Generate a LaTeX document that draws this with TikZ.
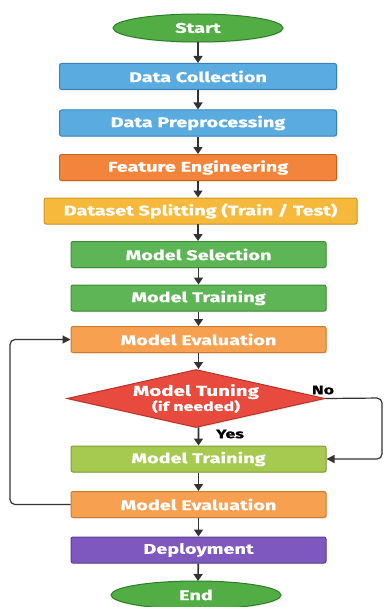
\documentclass[tikz,border=0pt]{standalone}
\usepackage{fontspec}
\setmainfont{Fira Sans}[FakeStretch=1.42, BoldFeatures={FakeBold=0.5}]
\usetikzlibrary{shapes.geometric,arrows.meta,shadows}
\definecolor{gfill}{HTML}{52AE44}\definecolor{gdraw}{HTML}{2F7D2A}
\definecolor{bfill}{HTML}{5AACE0}\definecolor{bdraw}{HTML}{3A82BC}
\definecolor{ofill}{HTML}{F2853B}\definecolor{odraw}{HTML}{C9641F}
\definecolor{yfill}{HTML}{F6B93C}\definecolor{ydraw}{HTML}{CF9722}
\definecolor{mfill}{HTML}{5DB556}\definecolor{mdraw}{HTML}{3D8C38}
\definecolor{lofill}{HTML}{F7A050}\definecolor{lodraw}{HTML}{CF7A2C}
\definecolor{rfill}{HTML}{E84A3E}\definecolor{rdraw}{HTML}{B8342A}
\definecolor{lgfill}{HTML}{A6CA50}\definecolor{lgdraw}{HTML}{7E9F33}
\definecolor{pfill}{HTML}{7E58BE}\definecolor{pdraw}{HTML}{5B3E95}
\definecolor{arr}{HTML}{333333}
\tikzset{
  x=1pt, y=-1pt,
  base/.style={font=\bfseries\fontsize{14}{15}\selectfont, text=white, line width=1pt, drop shadow={opacity=0.18, shadow xshift=1pt, shadow yshift=-1.2pt}},
  boxw/.style={base, rectangle, rounded corners=2pt, minimum height=26pt, minimum width=#1pt, inner sep=0pt},
  term/.style={base, ellipse, minimum width=170pt, minimum height=28pt, inner sep=0pt, fill=gfill, draw=gdraw},
  dec/.style={base, diamond, minimum width=258pt, minimum height=58pt, inner sep=0pt, aspect=4.4, fill=rfill, draw=rdraw, align=center},
  conn/.style={draw=arr, line width=1.6pt, -{Triangle[width=9pt,length=7pt]}},
  loop/.style={draw=arr, line width=1.2pt, rounded corners=5pt, -{Triangle[width=8pt,length=8pt]}},
  lab/.style={font=\bfseries\fontsize{12.5}{14}\selectfont, text=black}
}
\begin{document}
\begin{tikzpicture}
\useasboundingbox (0,0) rectangle (383,607);
\node[term] (start) at (198,28) {Start};
\node[boxw=277, fill=bfill, draw=bdraw] (collect) at (198,76.5) {Data Collection};
\node[boxw=277, fill=bfill, draw=bdraw] (prep) at (198,123) {Data Preprocessing};
\node[boxw=277, fill=ofill, draw=odraw] (feat) at (198,167.5) {Feature Engineering};
\node[boxw=313, fill=yfill, draw=ydraw] (split) at (200.5,211) {Dataset Splitting (Train / Test)};
\node[boxw=255, fill=mfill, draw=mdraw] (select) at (198.5,254.5) {Model Selection};
\node[boxw=255, fill=mfill, draw=mdraw] (train) at (198.5,298) {Model Training};
\node[boxw=255, fill=lofill, draw=lodraw] (eval) at (198.5,339.5) {Model Evaluation};
\node[dec] (tune) at (196,398.5) {{\fontsize{14.5}{15}\selectfont Model Tuning}\\[0pt]{\fontsize{12.5}{13}\selectfont (if needed)}};
\node[boxw=255, fill=lgfill, draw=lgdraw] (train2) at (198.5,459) {Model Training};
\node[boxw=255, fill=lofill, draw=lodraw] (eval2) at (198.5,504.5) {Model Evaluation};
\node[boxw=255, fill=pfill, draw=pdraw] (deploy) at (198.5,550) {Deployment};
\node[term] (end) at (196,595) {End};
\coordinate (noR) at (382,398);
\coordinate (loopL) at (10,400);
\draw[conn] (start) -- (start |- collect.north);
\draw[conn] (collect) -- (collect |- prep.north);
\draw[conn] (prep) -- (prep |- feat.north);
\draw[conn] (feat) -- (feat |- split.north);
\draw[conn] (198,224) -- (198,241);
\draw[conn] (select) -- (select |- train.north);
\draw[conn] (train) -- (train |- eval.north);
\draw[conn] (eval) -- (eval |- tune.north);
\draw[conn] (tune) -- (tune.south -| train2) -- (train2.north);
\draw[conn] (train2) -- (eval2);
\draw[conn] (eval2) -- (deploy);
\draw[conn] (deploy) -- (198,581);
\draw[loop] (tune.east) -- (noR) |- (train2.east);
\draw[loop] (eval2.west) -| (loopL) |- (eval.west);
\node[lab] (nolab) at (323,390) {No};
\node[lab] (yeslab) at (230,434) {Yes};
\end{tikzpicture}
\end{document}
